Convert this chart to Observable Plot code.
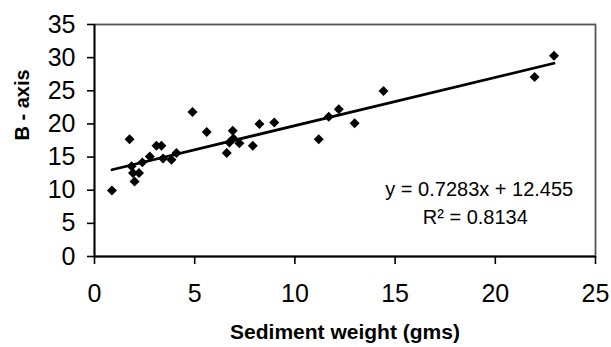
<!DOCTYPE html>
<html>
<head>
<meta charset="utf-8">
<script src="https://cdn.jsdelivr.net/npm/d3@7"></script>
<script src="https://cdn.jsdelivr.net/npm/@observablehq/plot@0.6"></script>
<style>
  html, body { margin: 0; padding: 0; background: #fff; }
  #chart svg { display: block; }
</style>
</head>
<body>
<div id="chart"></div>
<script>
// Sediment weight (gms) vs B-axis
const sedimentWeight = [0.87, 1.75, 1.85, 1.92, 2.0, 2.22, 2.39, 2.76, 3.09, 3.34, 3.42, 3.84, 4.09,
  4.89, 5.6, 6.6, 6.73, 6.9, 6.93, 7.23, 7.9, 8.23, 8.97, 11.19, 11.69, 12.19, 12.98, 14.42, 21.96, 22.93];
const bAxis = [9.96, 17.7, 13.6, 12.6, 11.3, 12.6, 14.2, 15.1, 16.7, 16.7, 14.8, 14.6, 15.6,
  21.8, 18.8, 15.6, 17.2, 18.97, 17.8, 17.1, 16.7, 20.0, 20.2, 17.7, 21.07, 22.2, 20.1, 24.97, 27.07, 30.3];
const xTicks = [0, 5, 10, 15, 20, 25];
const yTicks = [0, 5, 10, 15, 20, 25, 30, 35];
const slope = 0.7283, intercept = 12.455, r2 = 0.8134;
const xLabel = "Sediment weight (gms)";
const yLabel = "B - axis";
const eqLabel = "y = 0.7283x + 12.455";
const r2Label = "R² = 0.8134";

const points = sedimentWeight.map((x, i) => ({x, y: bAxis[i]}));
const xMin = d3.min(sedimentWeight), xMax = d3.max(sedimentWeight);
const trend = [xMin, xMax].map(x => ({x, y: slope * x + intercept}));

const font = "'Liberation Sans', Arial, sans-serif";

const chart = Plot.plot({
  width: 611,
  height: 347,
  marginLeft: 94,
  marginRight: 16,
  marginTop: 24,
  marginBottom: 91,
  style: {fontFamily: font, background: "#fff", color: "#000"},
  x: {domain: [0, 25]},
  y: {domain: [0, 35]},
  marks: [
    Plot.frame({stroke: "#555", strokeWidth: 1.8}),
    Plot.axisX({ticks: xTicks, tickSize: 8, tickPadding: 20, fontSize: 25, label: null, strokeWidth: 1.6}),
    Plot.axisY({ticks: yTicks, tickSize: 7, tickPadding: 12, fontSize: 25, label: null, strokeWidth: 1.6}),
    Plot.ruleX([0], {stroke: "#000", strokeWidth: 1.8}),
    Plot.ruleY([0], {stroke: "#000", strokeWidth: 1.8}),
    Plot.line(trend, {x: "x", y: "y", stroke: "#000", strokeWidth: 2.8}),
    Plot.dot(points, {x: "x", y: "y", symbol: "diamond2", r: 4.5, fill: "#000", stroke: "none"}),
    Plot.text([eqLabel], {x: 19.2, y: 10.1, fontSize: 20, fill: "#000"}),
    Plot.text([r2Label], {x: 19.0, y: 5.9, fontSize: 20, fill: "#000"}),
    Plot.text([xLabel], {frameAnchor: "bottom", dy: 82, fontSize: 21, fontWeight: "bold", fill: "#000"}),
    Plot.text([yLabel], {frameAnchor: "left", dx: -72, rotate: -90, fontSize: 20, fontWeight: "bold", fill: "#000"})
  ]
});
document.getElementById("chart").append(chart);
</script>
</body>
</html>
